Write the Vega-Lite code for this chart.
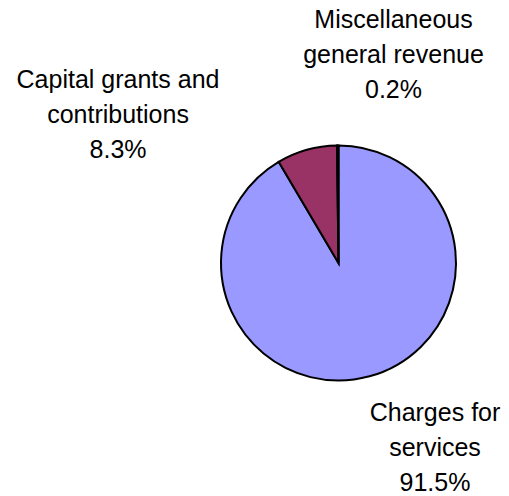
{
  "$schema": "https://vega.github.io/schema/vega-lite/v6.json",
  "autosize": {"type": "none"},
  "width": 340,
  "height": 460,
  "padding": {"left": 168.5, "top": 33, "right": 0.5, "bottom": 3},
  "background": "white",
  "config": {"view": {"stroke": null}},
  "data": {
    "values": [
      {"category": "Charges for services", "label": "Charges for\nservices", "value": 91.5},
      {"category": "Capital grants and contributions", "label": "Capital grants and\ncontributions", "value": 8.3},
      {"category": "Miscellaneous general revenue", "label": "Miscellaneous\ngeneral revenue", "value": 0.2}
    ]
  },
  "transform": [
    {"calculate": "datum.label + '\\n' + format(datum.value, '.1f') + '%'", "as": "text"}
  ],
  "layer": [
    {
      "mark": {"type": "arc", "outerRadius": 117.5, "stroke": "black", "strokeWidth": 2},
      "encoding": {
        "theta": {"field": "value", "type": "quantitative", "stack": true},
        "order": {"field": "value", "sort": "descending"},
        "color": {
          "field": "category",
          "type": "nominal",
          "scale": {
            "domain": ["Charges for services", "Capital grants and contributions", "Miscellaneous general revenue"],
            "range": ["#9999FF", "#993366", "#FFFFCC"]
          },
          "legend": null
        }
      }
    },
    {
      "transform": [{"filter": "datum.category === 'Charges for services'"}],
      "mark": {"type": "text", "radius": 177.94, "theta": 2.5684, "font": "Liberation Sans", "fontSize": 25, "lineHeight": 35, "lineBreak": "\n", "align": "center", "baseline": "middle", "color": "black"},
      "encoding": {"text": {"field": "text", "type": "nominal"}}
    },
    {
      "transform": [{"filter": "datum.category === 'Capital grants and contributions'"}],
      "mark": {"type": "text", "radius": 286.4, "theta": -0.8786, "font": "Liberation Sans", "fontSize": 25, "lineHeight": 35, "lineBreak": "\n", "align": "center", "baseline": "middle", "color": "black"},
      "encoding": {"text": {"field": "text", "type": "nominal"}}
    },
    {
      "transform": [{"filter": "datum.category === 'Miscellaneous general revenue'"}],
      "mark": {"type": "text", "radius": 248.95, "theta": 0.2228, "font": "Liberation Sans", "fontSize": 25, "lineHeight": 35, "lineBreak": "\n", "align": "center", "baseline": "middle", "color": "black"},
      "encoding": {"text": {"field": "text", "type": "nominal"}}
    }
  ]
}
